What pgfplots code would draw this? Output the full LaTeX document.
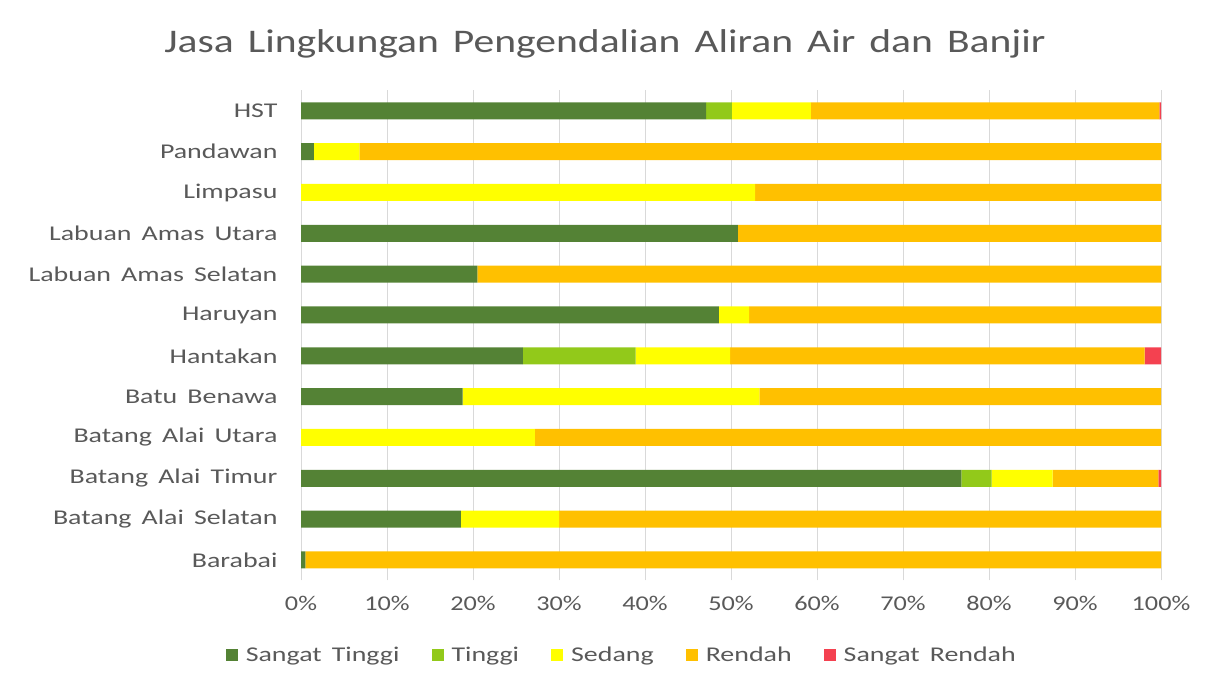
\documentclass[border=0pt]{standalone}
\usepackage{fontspec}
\setmainfont{Carlito}[FakeStretch=1.25]
\newfontfamily\lab{Carlito}[FakeStretch=1.33, WordSpace=1.6]
\newfontfamily\ttl{Carlito}[FakeStretch=1.26, WordSpace=1.5]
\usepackage{pgfplots}
\pgfplotsset{compat=1.18}

\definecolor{stinggi}{HTML}{548235}
\definecolor{tinggi}{HTML}{92C91A}
\definecolor{sedang}{HTML}{FFFF00}
\definecolor{rendah}{HTML}{FFC000}
\definecolor{srendah}{HTML}{F44150}
\definecolor{txt}{HTML}{595959}
\definecolor{grd}{HTML}{D9D9D9}

% columns: sangat tinggi, tinggi, sedang, rendah, sangat rendah (percent)
% rows from bottom (Barabai) to top (HST)
\pgfplotstableread{
y st ti se re sr
0  0.5  0   0    99.5 0
1  18.6 0   11.4 70.0 0
2  76.8 3.5 7.1  12.3 0.3
3  0    0   27.2 72.8 0
4  18.8 0   34.5 46.7 0
5  25.8 13.1 11.0 48.2 1.9
6  48.6 0   3.5  47.9 0
7  20.5 0   0    79.5 0
8  50.8 0   0    49.2 0
9  0    0   52.8 47.2 0
10 1.5  0   5.3  93.2 0
11 47.1 3.0 9.2  40.5 0.2
}\datatable

\begin{document}
\begin{tikzpicture}[x=1pt,y=1pt]
\useasboundingbox (0,0) rectangle (1210,684);
\node[text=txt,font=\ttl\fontsize{33}{38}\selectfont] at (605,640) {Jasa Lingkungan Pengendalian Aliran Air dan Banjir};
\begin{axis}[
    at={(301pt,103.6pt)}, anchor=south west,
    scale only axis,
    width=860pt, height=490pt,
    xbar stacked,
    bar width=17pt,
    xmin=0, xmax=100,
    ymin=-0.5, ymax=11.5,
    xtick={0,10,...,100},
    xticklabel={\pgfmathprintnumber{\tick}\%},
    ytick={0,...,11},
    yticklabels={Barabai,Batang Alai Selatan,Batang Alai Timur,Batang Alai Utara,Batu Benawa,Hantakan,Haruyan,Labuan Amas Selatan,Labuan Amas Utara,Limpasu,Pandawan,HST},
    /pgf/number format/assume math mode=true,
    tick label style={text=txt,font=\fontsize{21}{25}\selectfont},
    xticklabel style={yshift=-12pt},
    yticklabel style={xshift=-20pt,font=\lab\fontsize{21}{25}\selectfont},
    major tick length=0pt,
    axis line style={draw=none},
    xmajorgrids,
    grid style={grd, line width=1pt},
    legend columns=5,
    legend style={at={(0.373,-0.152)}, anchor=center, draw=none, fill=none,
        font=\lab\fontsize{21}{25}\selectfont, text=txt,
        /tikz/every odd column/.append style={column sep=6pt},
        /tikz/every even column/.append style={column sep=30pt}},
    legend image code/.code={\fill[#1] (0pt,-6pt) rectangle (12pt,6pt);},
]
\addplot[fill=stinggi, draw=none] table[x=st,y=y]{\datatable};
\addlegendentry{Sangat Tinggi}
\addplot[fill=tinggi, draw=none] table[x=ti,y=y]{\datatable};
\addlegendentry{Tinggi}
\addplot[fill=sedang, draw=none] table[x=se,y=y]{\datatable};
\addlegendentry{Sedang}
\addplot[fill=rendah, draw=none] table[x=re,y=y]{\datatable};
\addlegendentry{Rendah}
\addplot[fill=srendah, draw=none] table[x=sr,y=y]{\datatable};
\addlegendentry{Sangat Rendah}
\end{axis}
\end{tikzpicture}
\end{document}
